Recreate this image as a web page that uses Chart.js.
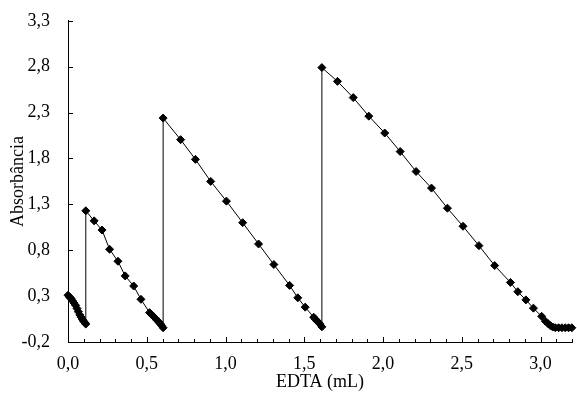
<!DOCTYPE html>
<html>
<head>
<meta charset="utf-8">
<script src="https://cdn.jsdelivr.net/npm/chart.js@4.4.1/dist/chart.umd.min.js"></script>
<style>
  html, body { margin: 0; padding: 0; background: #fff; }
  #box { width: 577px; height: 393px; }
</style>
</head>
<body>
<div id="box"><canvas id="chart" width="577" height="393"></canvas></div>
<script>
// titration curve (EDTA added in mL vs absorbance)
const vol1 = [0.000, 0.010, 0.019, 0.028, 0.038, 0.048, 0.057, 0.066, 0.075, 0.084, 0.092, 0.100, 0.107, 0.113]
const abs1 = [0.31, 0.29, 0.275, 0.25, 0.225, 0.20, 0.165, 0.13, 0.095, 0.07, 0.045, 0.025, 0.01, -0.005]

const vol2 = [0.113, 0.166, 0.216, 0.264, 0.317, 0.363, 0.417, 0.463, 0.518, 0.530, 0.542, 0.553, 0.564, 0.575, 0.585, 0.594, 0.604]
const abs2 = [1.23, 1.12, 1.02, 0.81, 0.68, 0.52, 0.41, 0.265, 0.12, 0.10, 0.08, 0.06, 0.04, 0.02, 0.0, -0.02, -0.045]

const vol3 = [0.604, 0.715, 0.809, 0.906, 1.006, 1.109, 1.210, 1.307, 1.407, 1.459, 1.506, 1.560, 1.570, 1.580, 1.590, 1.600, 1.612]
const abs3 = [2.24, 2.005, 1.79, 1.55, 1.335, 1.10, 0.868, 0.644, 0.417, 0.282, 0.18, 0.07, 0.05, 0.03, 0.015, -0.005, -0.035]

const vol4 = [1.612, 1.711, 1.811, 1.910, 2.011, 2.109, 2.210, 2.308, 2.409, 2.508, 2.609, 2.709, 2.809, 2.856, 2.907, 2.955, 3.007, 3.031, 3.048, 3.063, 3.078, 3.094, 3.115, 3.136, 3.157, 3.178, 3.199]
const abs4 = [2.79, 2.64, 2.463, 2.261, 2.077, 1.875, 1.658, 1.477, 1.258, 1.061, 0.85, 0.633, 0.449, 0.348, 0.259, 0.169, 0.08, 0.027, 0.0, -0.022, -0.037, -0.044, -0.045, -0.045, -0.045, -0.045, -0.045]

const xTickValues = [0.0, 0.5, 1.0, 1.5, 2.0, 2.5, 3.0]
const yTickValues = [-0.2, 0.3, 0.8, 1.3, 1.8, 2.3, 2.8, 3.3]
const xTitle = 'EDTA (mL)'
const yTitle = 'Absorbância'

// minor ticks on x every 0.1 mL
const xMinorTicks = []
for (let i = 0; i <= 32; i++) xMinorTicks.push(i / 10)

const volumes = [...vol1, ...vol2, ...vol3, ...vol4]
const absorb = [...abs1, ...abs2, ...abs3, ...abs4]
const points = volumes.map((v, i) => ({ x: v, y: absorb[i] }))

const fmt = v => Number(v).toFixed(1).replace('.', ',')
const serif = { family: "'Liberation Serif', 'Times New Roman', serif", size: 18 }

// ticks pointing inwards, like the original
const innerTicks = {
  id: 'innerTicks',
  afterDraw(chart) {
    const ctx = chart.ctx
    const xs = chart.scales.x
    const ys = chart.scales.y
    const area = chart.chartArea
    ctx.save()
    ctx.strokeStyle = '#000'
    ctx.lineWidth = 1
    ctx.beginPath()
    xMinorTicks.forEach(v => {
      const px = Math.round(xs.getPixelForValue(v)) + 0.5
      const major = Math.abs(v * 2 - Math.round(v * 2)) < 1e-6
      const len = major ? 5 : 3
      ctx.moveTo(px, area.bottom)
      ctx.lineTo(px, area.bottom - len)
    })
    yTickValues.forEach(v => {
      const py = Math.round(ys.getPixelForValue(v)) + 0.5
      ctx.moveTo(area.left, py)
      ctx.lineTo(area.left + 5, py)
    })
    ctx.stroke()
    ctx.restore()
  }
}

new Chart(document.getElementById('chart'), {
  type: 'scatter',
  data: {
    datasets: [{
      data: points,
      showLine: true,
      borderColor: '#000',
      borderWidth: 1,
      backgroundColor: '#000',
      pointStyle: 'rectRot',
      pointRadius: 4,
      pointBorderWidth: 1,
      pointBorderColor: '#000',
      pointBackgroundColor: '#000',
      clip: false
    }]
  },
  options: {
    responsive: false,
    animation: false,
    devicePixelRatio: 1,
    layout: { padding: { top: 13, right: 0, left: 0, bottom: 0 } },
    plugins: {
      legend: { display: false },
      tooltip: { enabled: false }
    },
    scales: {
      x: {
        type: 'linear',
        position: 'bottom',
        min: 0,
        max: 3.2,
        afterBuildTicks: s => { s.ticks = xTickValues.map(v => ({ value: v })) },
        afterFit: s => { s.height = 51 },
        grid: { display: false },
        border: { display: true, color: '#000', width: 1 },
        ticks: { color: '#000', font: serif, padding: 3, maxRotation: 0, autoSkip: false, callback: v => fmt(v) },
        title: { display: true, text: xTitle, color: '#000', font: serif, padding: { top: 2, bottom: 0 } }
      },
      y: {
        type: 'linear',
        min: -0.2,
        max: 3.3,
        afterBuildTicks: s => { s.ticks = yTickValues.map(v => ({ value: v })) },
        afterFit: s => { s.width = 68 },
        grid: { display: false },
        border: { display: true, color: '#000', width: 1 },
        ticks: { color: '#000', font: serif, padding: 10, autoSkip: false, callback: v => fmt(v) },
        title: { display: true, text: yTitle, color: '#000', font: serif, padding: { top: 7, bottom: 4 } }
      }
    }
  },
  plugins: [innerTicks]
})
</script>
</body>
</html>
